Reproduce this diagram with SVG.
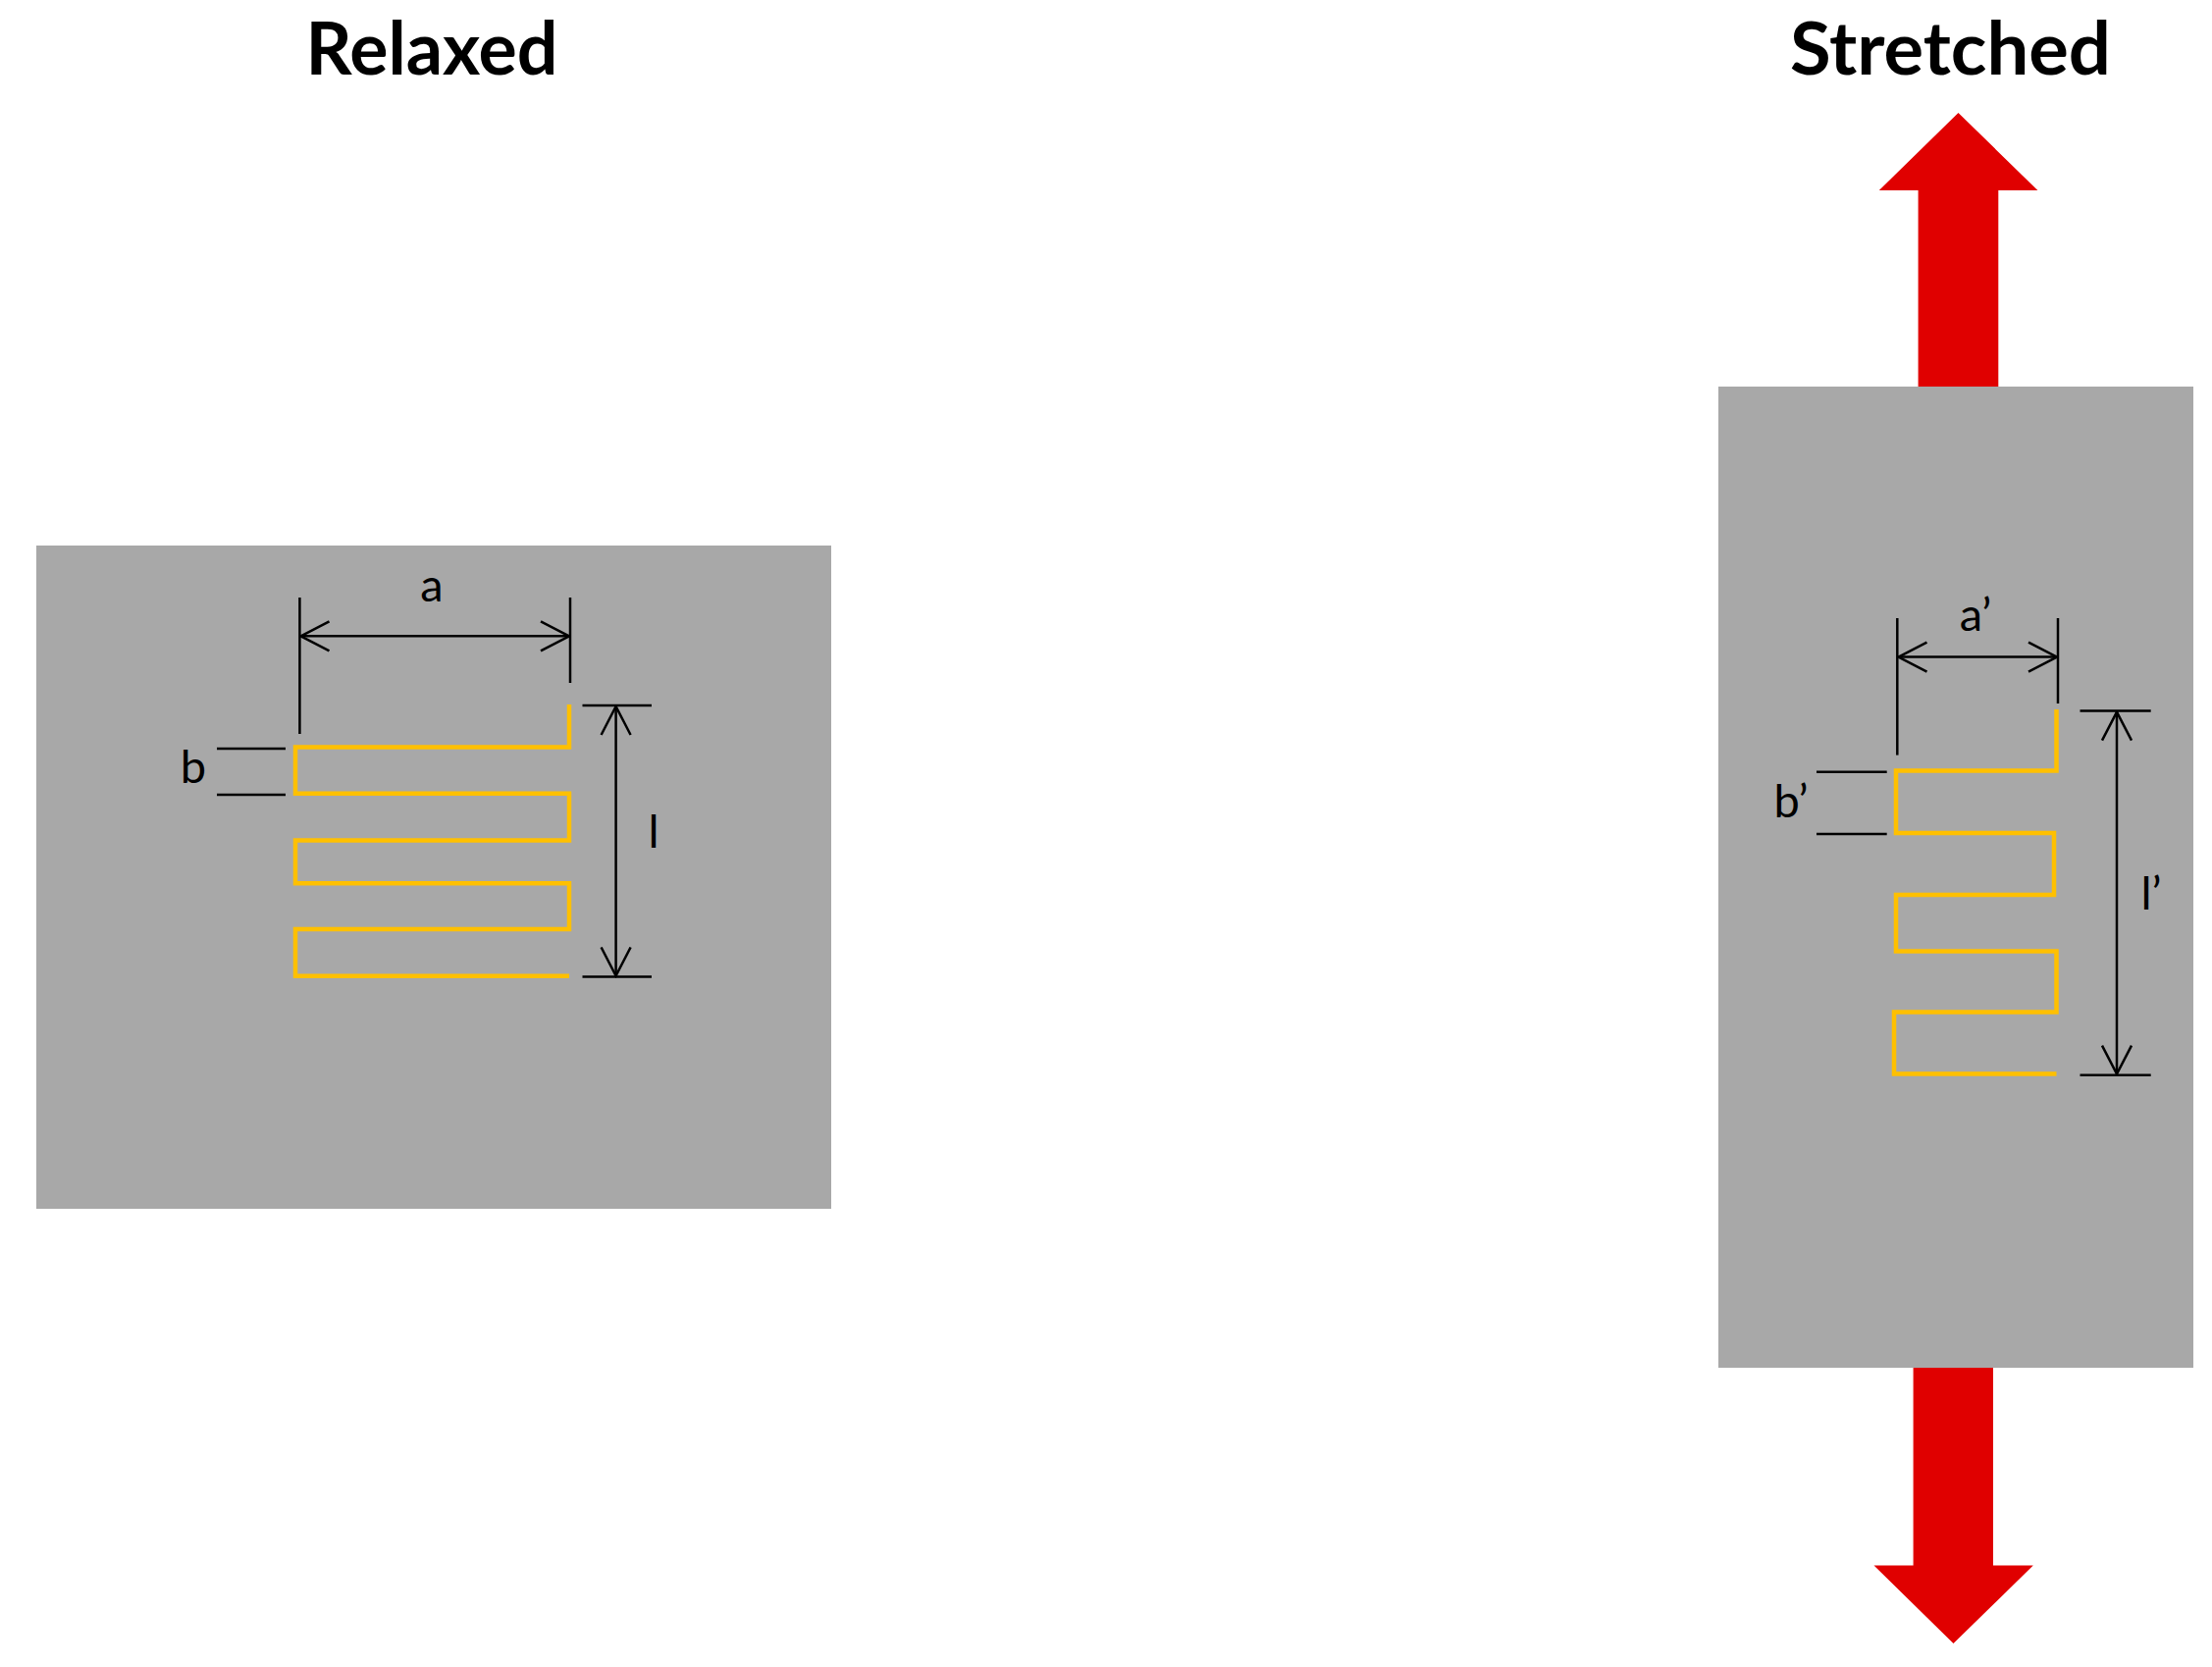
<svg xmlns="http://www.w3.org/2000/svg" width="2254" height="1699" viewBox="0 0 2254 1699">
<style>
.title{font-family:Lato,"Liberation Sans",sans-serif;font-weight:bold;font-size:75px;fill:#000}
.lbl{font-family:Lato,"Liberation Sans",sans-serif;font-size:47px;fill:#000}
.sub{fill:#a8a8a8}
.meander{fill:none;stroke:#ffc000;stroke-width:4.5;stroke-linejoin:miter}
.dim{fill:none;stroke:#000;stroke-width:2.5}
.force{fill:#e00000}
</style>
<defs>
<marker id="openArrow" markerUnits="userSpaceOnUse" viewBox="0 0 32 34" refX="30" refY="17" markerWidth="32" markerHeight="34" orient="auto-start-reverse">
<path d="M1,2 L30,17 L1,32" fill="none" stroke="#000" stroke-width="2.5"/>
</marker>
</defs>
<rect width="2254" height="1699" fill="#fff"/>
<g id="relaxed">
<text class="title" x="440" y="76" text-anchor="middle" textLength="257" lengthAdjust="spacingAndGlyphs">Relaxed</text>
<rect class="sub" x="37" y="556" width="810" height="676"/>
<path class="meander" d="M580,718 V761.6 H301 V808.8 H580 V856.5 H301 V900.2 H580 V947 H301 V994.7 H580"/>
</g>
<g id="stretched">
<text class="title" x="1987.5" y="76" text-anchor="middle" textLength="327" lengthAdjust="spacingAndGlyphs">Stretched</text>
<polygon id="force-up" class="force" points="1995.5,115 2076.4,194 2036.3,194 2036.3,394 1954.6,394 1954.6,194 1914.8,194"/>
<polygon id="force-down" class="force" points="1949.6,1394 2031,1394 2031,1595.6 2071.8,1595.6 1990.5,1675 1909.5,1595.6 1949.6,1595.6"/>
<rect class="sub" x="1751" y="394" width="484" height="1000"/>
<path class="meander" d="M2095.5,723 V785.5 H1932 V849 H2093 V912 H1932 V969.5 H2095.5 V1031.5 H1930 V1094.5 H2095.5"/>
</g>
<g id="connectors">
<!-- relaxed dimensions -->
<line class="dim" x1="305.4" y1="609" x2="305.4" y2="748"/>
<line class="dim" x1="581" y1="609" x2="581" y2="696"/>
<line class="dim" x1="306.5" y1="648.3" x2="580" y2="648.3" marker-start="url(#openArrow)" marker-end="url(#openArrow)"/>
<line class="dim" x1="221" y1="763" x2="291" y2="763"/>
<line class="dim" x1="221" y1="810" x2="291" y2="810"/>
<line class="dim" x1="593.5" y1="719" x2="664" y2="719"/>
<line class="dim" x1="593.5" y1="995.6" x2="664" y2="995.6"/>
<line class="dim" x1="627.6" y1="720" x2="627.6" y2="994.5" marker-start="url(#openArrow)" marker-end="url(#openArrow)"/>
<!-- stretched dimensions -->
<line class="dim" x1="1933.3" y1="630" x2="1933.3" y2="769.6"/>
<line class="dim" x1="2097" y1="630" x2="2097" y2="717"/>
<line class="dim" x1="1934.5" y1="669.6" x2="2096" y2="669.6" marker-start="url(#openArrow)" marker-end="url(#openArrow)"/>
<line class="dim" x1="1851" y1="786.8" x2="1922.7" y2="786.8"/>
<line class="dim" x1="1851" y1="850" x2="1922.7" y2="850"/>
<line class="dim" x1="2119.5" y1="724.6" x2="2191.7" y2="724.6"/>
<line class="dim" x1="2119.5" y1="1095.7" x2="2191.7" y2="1095.7"/>
<line class="dim" x1="2157" y1="725.6" x2="2157" y2="1094.6" marker-start="url(#openArrow)" marker-end="url(#openArrow)"/>
</g>
<g id="labels">
<text class="lbl" x="440" y="613" text-anchor="middle">a</text>
<text class="lbl" x="197" y="798" text-anchor="middle">b</text>
<text class="lbl" x="666" y="864" text-anchor="middle">l</text>
<text class="lbl" x="2013" y="643" text-anchor="middle">a’</text>
<text class="lbl" x="1825" y="833" text-anchor="middle">b’</text>
<text class="lbl" x="2192" y="927" text-anchor="middle">l’</text>
</g>
</svg>
